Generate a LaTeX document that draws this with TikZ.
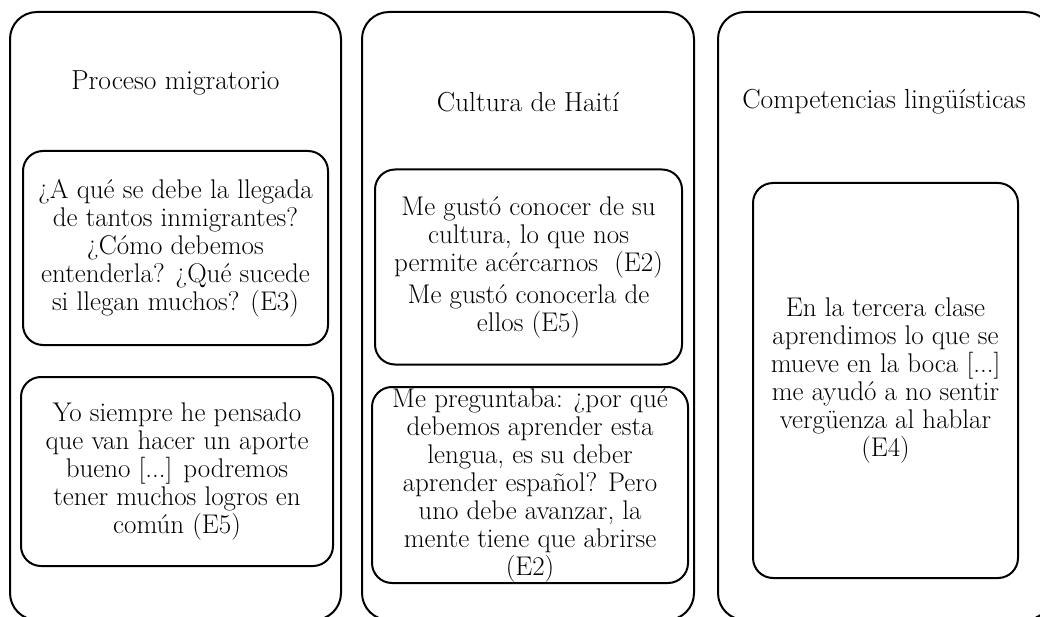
\documentclass[tikz,border=0pt]{standalone}
\begin{document}
\begin{tikzpicture}[x=1pt,y=-1pt,
  outer/.style={draw, line width=2pt, rounded corners=27pt, inner sep=0pt},
  quote/.style={draw, line width=2pt, rounded corners=20pt, align=center, inner sep=0pt, font=\fontsize{27}{28}\selectfont},
  title/.style={inner sep=0pt, font=\fontsize{27.5}{28}\selectfont}]
\useasboundingbox (0,0) rectangle (1040,617);
\clip (0,0) rectangle (1040,617);
% columns
\node[outer, minimum width=331pt, minimum height=608pt] (col1) at (175.5,316) {};
\node[outer, minimum width=332pt, minimum height=608pt] (col2) at (528,316) {};
\node[outer, minimum width=334pt, minimum height=608pt] (col3) at (885,316) {};
% titles
\node[title] (t1) at (175.5,83) {Proceso migratorio};
\node[title] (t2) at (528,102) {Cultura de Haití};
\node[title] (t3) at (884,102) {Competencias lingüísticas};
% column 1
\node[quote, minimum width=305pt, minimum height=194pt] (q1a) at (175.5,248)
  {¿A qué se debe la llegada\\de tantos inmigrantes?\\¿Cómo debemos\\entenderla? ¿Qué sucede\\si llegan muchos? (E3)};
\node[quote, minimum width=312pt, minimum height=189pt] (q1b) at (177,471.5)
  {Yo siempre he pensado\\que van hacer un aporte\\bueno [...] podremos\\tener muchos logros en\\común (E5)};
% column 2
\node[quote, minimum width=307pt, minimum height=195pt] (q2a) at (528.5,267)
  {Me gustó conocer de su\\cultura, lo que nos\\permite acércarnos~ (E2)\\[4pt]Me gustó conocerla de\\ellos (E5)};
\node[quote, minimum width=316pt, minimum height=196pt] (q2b) at (530,485)
  {Me preguntaba: ¿por qué\\debemos aprender esta\\lengua, es su deber\\aprender español? Pero\\uno debe avanzar, la\\mente tiene que abrirse\\(E2)};
% column 3
\node[quote, minimum width=265pt, minimum height=395pt] (q3a) at (885.5,380.5)
  {En la tercera clase\\aprendimos lo que se\\mueve en la boca [...]\\me ayudó a no sentir\\vergüenza al hablar\\(E4)};
\end{tikzpicture}
\end{document}
